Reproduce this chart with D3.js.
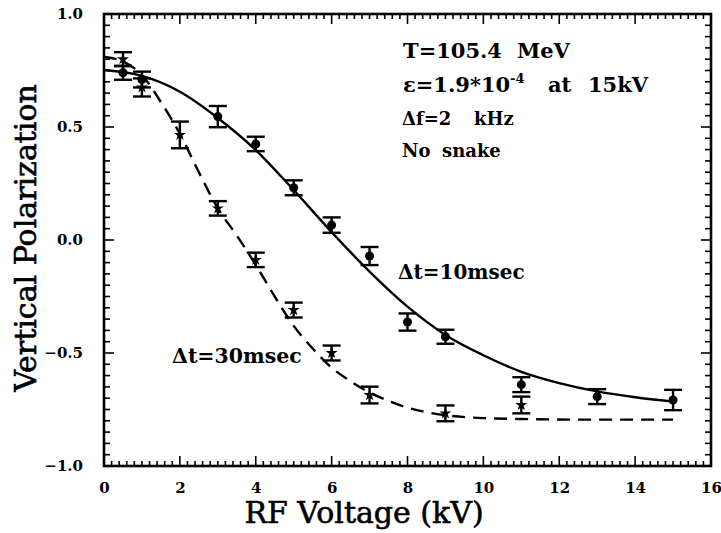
<!DOCTYPE html>
<html><head><meta charset="utf-8">
<script src="https://cdn.jsdelivr.net/npm/d3@7"></script>
<style>body{margin:0;background:#fff}svg{display:block}text{font-family:"DejaVu Serif",serif;font-weight:bold;fill:#000}</style>
</head><body><svg id="c" width="721" height="533"></svg>
<script>
// Δt=10msec (circles)
const v10 = [0.5, 1, 3, 4, 5, 6, 7, 8, 9, 11, 13, 15];
const p10 = [0.74, 0.71, 0.546, 0.425, 0.231, 0.066, -0.071, -0.363, -0.428, -0.64, -0.693, -0.708];
const e10 = [0.031, 0.035, 0.047, 0.032, 0.033, 0.034, 0.04, 0.038, 0.031, 0.033, 0.033, 0.045];
// Δt=30msec (stars)
const v30 = [0.5, 1, 2, 3, 4, 5, 6, 7, 9, 11];
const p30 = [0.80, 0.675, 0.465, 0.140, -0.088, -0.31, -0.50, -0.686, -0.767, -0.73];
const e30 = [0.031, 0.04, 0.059, 0.032, 0.032, 0.033, 0.033, 0.037, 0.035, 0.037];
// fitted curves
const fit10x = [0, 1, 2, 3, 4, 5, 6, 7, 8, 9, 10, 11, 12, 13, 14, 15];
const fit10y = [0.752, 0.726, 0.656, 0.54, 0.398, 0.221, 0.035, -0.14, -0.295, -0.42, -0.51, -0.583, -0.633, -0.67, -0.696, -0.715];
const fit30x = [0, 0.5, 1, 1.5, 2, 2.5, 3, 3.5, 4, 4.5, 5, 5.5, 6, 6.5, 7, 7.5, 8, 9, 10, 11, 13, 15];
const fit30y = [0.81, 0.79, 0.73, 0.61, 0.47, 0.30, 0.14, 0.02, -0.11, -0.25, -0.38, -0.48, -0.565, -0.625, -0.675, -0.712, -0.742, -0.775, -0.788, -0.792, -0.795, -0.795];
const xTicks = [0, 2, 4, 6, 8, 10, 12, 14, 16];
const yTicks = [-1.0, -0.5, 0.0, 0.5, 1.0];

const svg = d3.select("#c");
const L = 104, R = 711, T = 14, B = 466;
const x = d3.scaleLinear().domain([0, 16]).range([L, R]);
const y = d3.scaleLinear().domain([-1, 1]).range([B, T]);

// minor ticks
const xMinor = d3.range(0, 16.001, 0.2);
const yMinor = d3.range(-1, 1.001, 0.05);
const tg = svg.append("g").attr("stroke", "#000").attr("stroke-width", 1.6);
xMinor.forEach(v => {
  const major = Math.abs(v / 2 - Math.round(v / 2)) < 1e-6;
  const len = major ? 10 : 5;
  tg.append("line").attr("x1", x(v)).attr("x2", x(v)).attr("y1", B).attr("y2", B - len);
  tg.append("line").attr("x1", x(v)).attr("x2", x(v)).attr("y1", T).attr("y2", T + len);
});
yMinor.forEach(v => {
  const major = Math.abs(v / 0.5 - Math.round(v / 0.5)) < 1e-6;
  const len = major ? 10 : 6;
  tg.append("line").attr("y1", y(v)).attr("y2", y(v)).attr("x1", L).attr("x2", L + len);
  tg.append("line").attr("y1", y(v)).attr("y2", y(v)).attr("x1", R).attr("x2", R - len);
});

// axes labels via d3 axes
const xAx = svg.append("g").attr("transform", `translate(0,${B})`)
  .call(d3.axisBottom(x).tickValues(xTicks).tickFormat(d3.format("d")).tickSize(0).tickPadding(16));
xAx.select(".domain").remove();
xAx.selectAll("text").style("font-size", "15px").style("font-family", "DejaVu Serif").style("font-weight", "bold");
const yAx = svg.append("g").attr("transform", `translate(${L},0)`)
  .call(d3.axisLeft(y).tickValues(yTicks).tickFormat(d => d.toFixed(1).replace("-", "\u2212")).tickSize(0).tickPadding(21));
yAx.select(".domain").remove();
yAx.selectAll("text").style("font-size", "15px").style("font-family", "DejaVu Serif").style("font-weight", "bold");

// frame
svg.append("rect").attr("x", L).attr("y", T).attr("width", R - L).attr("height", B - T)
  .attr("fill", "none").attr("stroke", "#000").attr("stroke-width", 2.6);

// curves
const line = d3.line().x(d => x(d[0])).y(d => y(d[1])).curve(d3.curveMonotoneX);
svg.append("path").attr("d", line(fit10x.map((v, i) => [v, fit10y[i]])))
  .attr("fill", "none").attr("stroke", "#000").attr("stroke-width", 2.4);
svg.append("path").attr("d", line(fit30x.map((v, i) => [v, fit30y[i]])))
  .attr("fill", "none").attr("stroke", "#000").attr("stroke-width", 2.4).attr("stroke-dasharray", "13,8");

// error bars
function errbars(xs, ps, es) {
  const g = svg.append("g").attr("stroke", "#000").attr("stroke-width", 2.4);
  xs.forEach((v, i) => {
    const cx = x(v), y1 = y(ps[i] + es[i]), y2 = y(ps[i] - es[i]);
    g.append("line").attr("x1", cx).attr("x2", cx).attr("y1", y1).attr("y2", y2);
    g.append("line").attr("x1", cx - 9).attr("x2", cx + 9).attr("y1", y1).attr("y2", y1);
    g.append("line").attr("x1", cx - 9).attr("x2", cx + 9).attr("y1", y2).attr("y2", y2);
  });
}
errbars(v10, p10, e10);
errbars(v30, p30, e30);
svg.append("g").selectAll("circle").data(v10).join("circle")
  .attr("cx", d => x(d)).attr("cy", (d, i) => y(p10[i])).attr("r", 4.5).attr("fill", "#000");
svg.append("g").selectAll("path").data(v30).join("path")
  .attr("transform", (d, i) => `translate(${x(d)},${y(p30[i])})`)
  .attr("d", d3.symbol().type(d3.symbolStar).size(45)).attr("fill", "#000");

// annotations
const ann = svg.append("g").style("font-size", "21px");
ann.append("text").attr("x", 403).attr("y", 58).text("T=105.4");
ann.append("text").attr("x", 517).attr("y", 58).text("MeV");
const t2 = ann.append("text").attr("x", 403).attr("y", 92);
t2.append("tspan").text("\u03b5=1.9*10");
t2.append("tspan").attr("dy", -9).style("font-size", "13px").text("-4");
ann.append("text").attr("x", 548).attr("y", 92).text("at");
ann.append("text").attr("x", 588).attr("y", 92).text("15kV");
ann.append("text").attr("x", 402).attr("y", 125).style("font-size", "18px").text("\u0394f=2");
ann.append("text").attr("x", 474).attr("y", 125).style("font-size", "18px").text("kHz");
ann.append("text").attr("x", 402).attr("y", 157).style("font-size", "18px").text("No");
ann.append("text").attr("x", 442).attr("y", 157).style("font-size", "18px").text("snake");
ann.append("text").attr("x", 398).attr("y", 279).style("font-size", "20px").text("\u0394t=10msec");
ann.append("text").attr("x", 172).attr("y", 363).style("font-size", "20.5px").text("\u0394t=30msec");

// axis titles
svg.append("text").attr("x", 364).attr("y", 523).attr("text-anchor", "middle")
  .style("font-size", "30px").style("font-weight", "normal")
  .attr("stroke", "#000").attr("stroke-width", 0.6).text("RF Voltage (kV)");
svg.append("text").attr("transform", "translate(36,238) rotate(-90)").attr("text-anchor", "middle")
  .style("font-size", "30px").style("font-weight", "normal")
  .attr("stroke", "#000").attr("stroke-width", 0.6).text("Vertical Polarization");
</script></body></html>
